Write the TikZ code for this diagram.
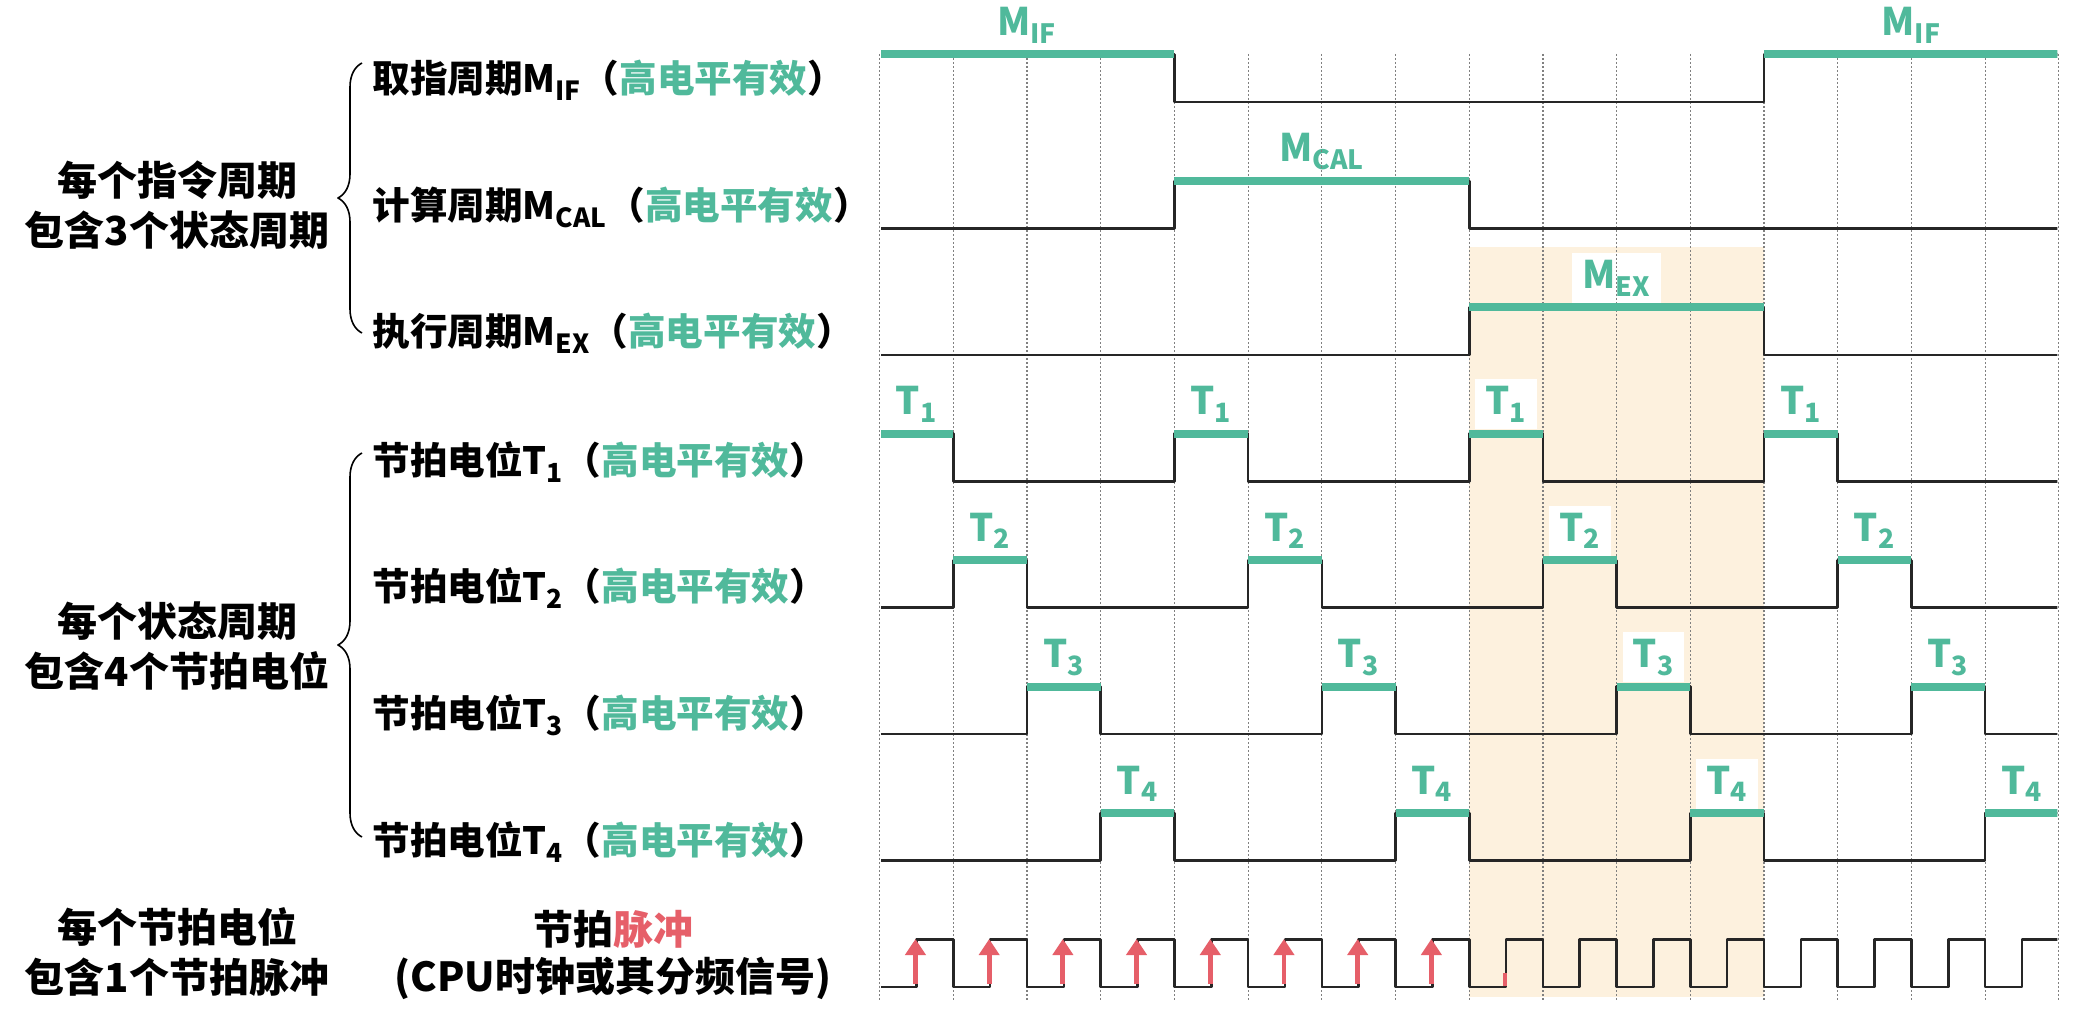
\documentclass[tikz,border=0pt]{standalone}
\usepackage{fontspec}
\setmainfont{Noto Sans CJK SC}
\usetikzlibrary{arrows.meta,decorations.pathreplacing}
\definecolor{mgreen}{RGB}{80,185,155}
\definecolor{mbeige}{RGB}{253,241,222}
\definecolor{mred}{RGB}{230,95,105}
\newcommand\highlvl{\textcolor{mgreen}{高电平有效}}
\tikzset{
  wire/.style={line width=1.3pt,black!85},
  hiline/.style={line width=4pt,mgreen},
  gridline/.style={black!50,line width=0.6pt,dash pattern=on 1pt off 1pt},
  tag/.style={fill=white,text=mgreen,inner xsep=5pt,minimum height=25pt,font=\fontsize{19}{19}\selectfont\bfseries},
  rowlab/.style={anchor=west,inner sep=0pt,font=\fontsize{18.8}{20}\selectfont\bfseries},
  grouplab/.style={align=center,inner sep=0pt,font=\fontsize{20}{25}\selectfont\bfseries},
  clkarrow/.style={mred,line width=2.4pt,-{Triangle[length=8pt,width=10pt]}},
  sidebrace/.style={decorate,decoration={brace,amplitude=12pt},line width=0.8pt},
}
\begin{document}
\begin{tikzpicture}[x=0.5pt,y=0.5pt,line join=round]
  \def\gx{879.6} \def\gw{73.7} \def\rp{126.43} \def\hh{47.5}
  \fill[white] (0,0) rectangle (2096,-1010);
  \useasboundingbox (0,0) rectangle (2096,-1010);
  % execute cycle
  \fill[mbeige] ({\gx+8*\gw},-247) rectangle ({\gx+12*\gw},-997);

  % texts on the left
  \node[grouplab] (grp1) at (177,-205) {每个指令周期\\包含3个状态周期};
  \node[grouplab] (grp2) at (177,-646) {每个状态周期\\包含4个节拍电位};
  \node[grouplab] (grp3) at (177,-952) {每个节拍电位\\包含1个节拍脉冲};
  \node[grouplab,font=\fontsize{20}{23.5}\selectfont\bfseries] (clklab) at (613,-955) {节拍\textcolor{mred}{脉冲}\\(CPU时钟或其分频信号)};
  \node[rowlab] (lif) at (372,-80) {取指周期M\textsubscript{IF}（\highlvl）};
  \node[rowlab] (lcal) at (372,-207) {计算周期M\textsubscript{CAL}（\highlvl）};
  \node[rowlab] (lex) at (372,-333) {执行周期M\textsubscript{EX}（\highlvl）};
  \foreach \k/\y in {1/462,2/588,3/715,4/842}
    \node[rowlab] (lt\k) at (372,-\y) {节拍电位T\textsubscript{\k}（\highlvl）};
  \draw[sidebrace] (362,-333) -- (362,-63);
  \draw[sidebrace] (362,-837) -- (362,-453);

  % labels over the high levels
  \node[tag,above=2pt] (mif1) at ({\gx+2*\gw},-54.5) {M\textsubscript{IF}};
  \node[tag,above=2pt] (mif2) at ({\gx+14*\gw},-54.5) {M\textsubscript{IF}};
  \node[tag,above=2pt] (mcal) at ({\gx+6*\gw},-180.9) {M\textsubscript{CAL}};
  \node[tag,above=2pt] (mex) at ({\gx+10*\gw},-307.4) {M\textsubscript{EX}};
  \foreach \k in {1,...,4}
    \foreach \m in {0,...,3}
      \node[tag,above=2pt] (t\k-\m) at ({\gx+(4*\m+\k-0.5)*\gw},{-(102+(\k+2)*\rp-\hh)}) {T\textsubscript{\k}};

  % grid
  \foreach \i in {0,...,16}
    \draw[gridline] ({\gx+\i*\gw},-54) -- ({\gx+\i*\gw},-1002);

  \begin{scope}
    \clip ({\gx+1.5},0) rectangle ({\gx+16*\gw-1.5},-1010);
    % machine cycles
    \draw[wire] (\gx,-54.5) -| ({\gx+4*\gw},-102) -| ({\gx+12*\gw},-54.5) -- ({\gx+16*\gw},-54.5);
    \draw[wire] (\gx,-228.4) -| ({\gx+4*\gw},-180.9) -| ({\gx+8*\gw},-228.4) -- ({\gx+16*\gw},-228.4);
    \draw[wire] (\gx,-354.9) -| ({\gx+8*\gw},-307.4) -| ({\gx+12*\gw},-354.9) -- ({\gx+16*\gw},-354.9);
    \draw[hiline] (\gx,-54.5) -- ++({4*\gw},0) ({\gx+12*\gw},-54.5) -- ++({4*\gw},0);
    \draw[hiline] ({\gx+4*\gw},-180.9) -- ++({4*\gw},0);
    \draw[hiline] ({\gx+8*\gw},-307.4) -- ++({4*\gw},0);
    % phase signals T1..T4
    \foreach \k in {1,...,4} {
      \pgfmathsetmacro\lo{-(102+(\k+2)*\rp)}
      \draw[wire] (\gx,\lo) \foreach \m in {0,...,3} { -- ({\gx+(4*\m+\k-1)*\gw},\lo) -- ++(0,\hh) -- ++(\gw,0) -- ++(0,-\hh) } -- ({\gx+16*\gw},\lo);
      \foreach \m in {0,...,3}
        \draw[hiline] ({\gx+(4*\m+\k-1)*\gw},{\lo+\hh}) -- ++(\gw,0);
    }
    % clock
    \draw[wire] (\gx,-987) \foreach \i in {0,...,15} { -- ++({\gw/2},0) -- ++(0,\hh) -- ++({\gw/2},0) -- ++(0,-\hh) };
  \end{scope}

  % rising edges
  \foreach \i in {0,...,7}
    \draw[clkarrow] ({\gx+(\i+0.5)*\gw-1},-984) -- ++(0,45);
  \draw[mred,line width=2.4pt] ({\gx+8.5*\gw-1},-986) -- ++(0,13);
\end{tikzpicture}
\end{document}
